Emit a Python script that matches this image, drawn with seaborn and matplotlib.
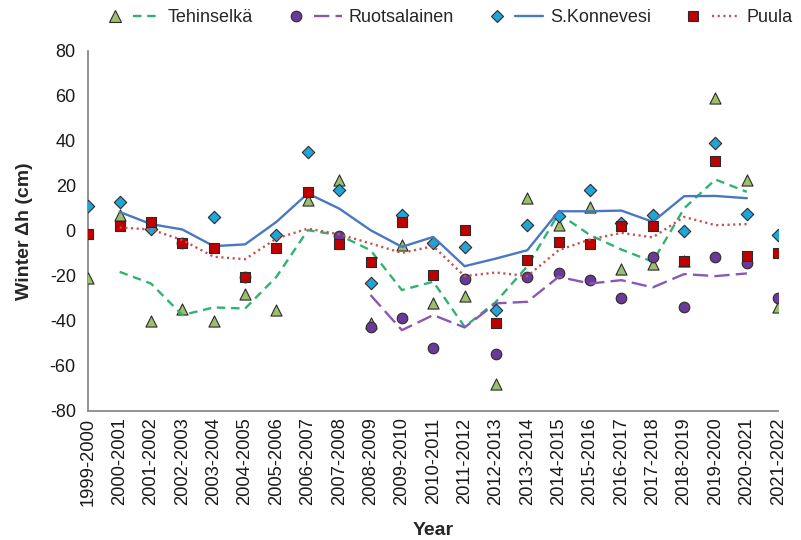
import numpy as np
import pandas as pd
import matplotlib
matplotlib.use("Agg")
import matplotlib.pyplot as plt
import seaborn as sns
from matplotlib.legend_handler import HandlerTuple
from matplotlib.lines import Line2D

nan = np.nan

seasons = ["1999-2000", "2000-2001", "2001-2002", "2002-2003", "2003-2004",
           "2004-2005", "2005-2006", "2006-2007", "2007-2008", "2008-2009",
           "2009-2010", "2010-2011", "2011-2012", "2012-2013", "2013-2014",
           "2014-2015", "2015-2016", "2016-2017", "2017-2018", "2018-2019",
           "2019-2020", "2020-2021", "2021-2022"]

# Winter water-level change per season (cm), observed values
tehinselka = [-21.1, 7.0, -40.0, -34.8, -40.0, -28.1, -35.2, 13.6, 22.5, -41.0,
              -6.3, -32.2, -28.8, -68.0, 14.8, 2.5, 10.7, -17.1, -14.5, -13.5,
              58.8, 22.8, -33.7]
ruotsalainen = [nan, nan, nan, -5.2, nan, -20.7, nan, nan, -2.4, -42.9,
                -38.9, -51.9, -21.6, -54.7, -20.4, -18.9, -21.7, -29.7, -11.5, -34.0,
                -11.5, -14.2, -29.6]
s_konnevesi = [11.1, 12.9, 0.8, nan, 6.2, nan, -1.9, 35.1, 18.1, -23.1,
               7.0, -5.2, -7.1, -35.2, 2.8, 6.5, 18.1, 3.5, 7.0, 0.0,
               39.1, 7.3, -1.9]
puula = [-1.3, 2.1, 4.0, -5.2, -7.8, -20.7, -7.8, 17.3, -5.9, -14.0,
         4.0, -19.7, 0.3, -41.1, -13.0, -4.9, -5.7, 2.2, 2.2, -13.2,
         31.1, -11.2, -9.8]

# Smoothed trend lines
tehinselka_trend = [nan, -18.2, -23.4, -37.4, -34.0, -34.5, -20.4, 0.3, -1.9, -8.6,
                    -26.3, -22.6, -42.6, -31.5, -15.7, 7.7, -1.9, -8.3, -13.7, 10.0,
                    22.8, 17.3, nan]
ruotsalainen_trend = [nan, nan, nan, nan, nan, nan, nan, nan, nan, -28.5,
                      -44.1, -37.4, -42.9, -32.2, -31.5, -20.4, -23.4, -21.9, -25.1, -19.2,
                      -20.1, -18.9, nan]
s_konnevesi_trend = [nan, 8.4, 3.0, 0.6, -6.8, -6.0, 4.0, 16.6, 9.9, 0.3,
                     -7.1, -2.7, -15.7, -12.3, -8.6, 8.7, 8.7, 9.0, 4.0, 15.4,
                     15.5, 14.5, nan]
puula_trend = [nan, 1.5, 0.6, -4.1, -11.5, -12.6, -3.4, 1.0, -1.5, -5.6,
               -9.8, -6.8, -20.1, -18.5, -20.1, -8.6, -3.8, -0.9, -2.9, 6.2,
               2.5, 3.0, nan]

df = pd.DataFrame({
    "pos": np.arange(len(seasons)),
    "season": seasons,
    "teh": tehinselka, "ruo": ruotsalainen, "sko": s_konnevesi, "puu": puula,
    "teh_t": tehinselka_trend, "ruo_t": ruotsalainen_trend,
    "sko_t": s_konnevesi_trend, "puu_t": puula_trend,
})

sns.set_theme(style="white")
plt.rcParams["font.family"] = ["Liberation Sans", "DejaVu Sans"]
plt.rcParams["axes.unicode_minus"] = False

fig = plt.figure(figsize=(8.01, 5.40), dpi=100)
ax = fig.add_axes([88.3 / 801, 1 - 411 / 540, (778.2 - 88.3) / 801, (411 - 50.7) / 540])

edge = "#2b2b2b"
series = [
    # column, trend column, marker, size, face colour, line colour, dash pattern
    ("teh", "teh_t", "^", 64, "#9cbf6c", "#2fb36f", (0, (3.6, 2.4))),
    ("ruo", "ruo_t", "o", 58, "#6b3a98", "#8a57b8", (0, (6.5, 2.6))),
    ("sko", "sko_t", "D", 40, "#1fa6d9", "#4a78c0", "-"),
    ("puu", "puu_t", "s", 52, "#c00000", "#c8504e", (0, (0.9, 1.5))),
]

z = 3.0
for col, tcol, mk, size, face, lcol, ls in series:
    sns.scatterplot(data=df, x="pos", y=col, marker=mk, s=size, color=face,
                    edgecolor=edge, linewidth=0.8, ax=ax, zorder=z, legend=False)
    z += 0.1
    sns.lineplot(data=df.dropna(subset=[tcol]), x="pos", y=tcol, color=lcol,
                 linestyle=ls, linewidth=1.7, estimator=None, sort=False,
                 ax=ax, zorder=z, legend=False)
    z += 0.1

ax.set_xlim(0, len(seasons) - 1)
ax.set_ylim(-80, 80)
ax.set_xticks(df["pos"])
ax.set_xticklabels(seasons, rotation=90, fontsize=13.2, color="#1a1a1a")
ax.set_yticks(np.arange(-80, 81, 20))
ax.tick_params(axis="y", labelsize=13, colors="#1a1a1a", length=6, width=1,
               color="#8a8a8a", direction="out", pad=3)
ax.tick_params(axis="x", length=3.5, width=1, color="#8a8a8a", direction="out", pad=1.2)

for side in ("top", "right"):
    ax.spines[side].set_visible(False)
for side in ("left", "bottom"):
    ax.spines[side].set_color("#8a8a8a")
    ax.spines[side].set_linewidth(1.3)

ax.set_xlabel("Year", fontsize=14, fontweight="bold", labelpad=12)
ax.set_ylabel("Winter \u0394h (cm)", fontsize=14, fontweight="bold", labelpad=12)

# Legend: marker and trend line side by side for each lake
names = ["Tehinselkä", "Ruotsalainen", "S.Konnevesi", "Puula"]
handles = []
for (col, tcol, mk, size, face, lcol, ls) in series:
    m = Line2D([], [], linestyle="none", marker=mk, markersize=np.sqrt(size),
               markerfacecolor=face, markeredgecolor=edge, markeredgewidth=0.8)
    l = Line2D([], [], color=lcol, linestyle=ls, linewidth=1.7)
    handles.append((m, l))
fig.legend(handles, names, handler_map={tuple: HandlerTuple(ndivide=None, pad=0.25)},
           loc="center left", bbox_to_anchor=(92 / 801, 1 - 18 / 540), ncol=4,
           frameon=False, borderpad=0, fontsize=13, handlelength=3.3,
           handletextpad=0.4, columnspacing=1.6)

fig.savefig("out.png", dpi=100)
